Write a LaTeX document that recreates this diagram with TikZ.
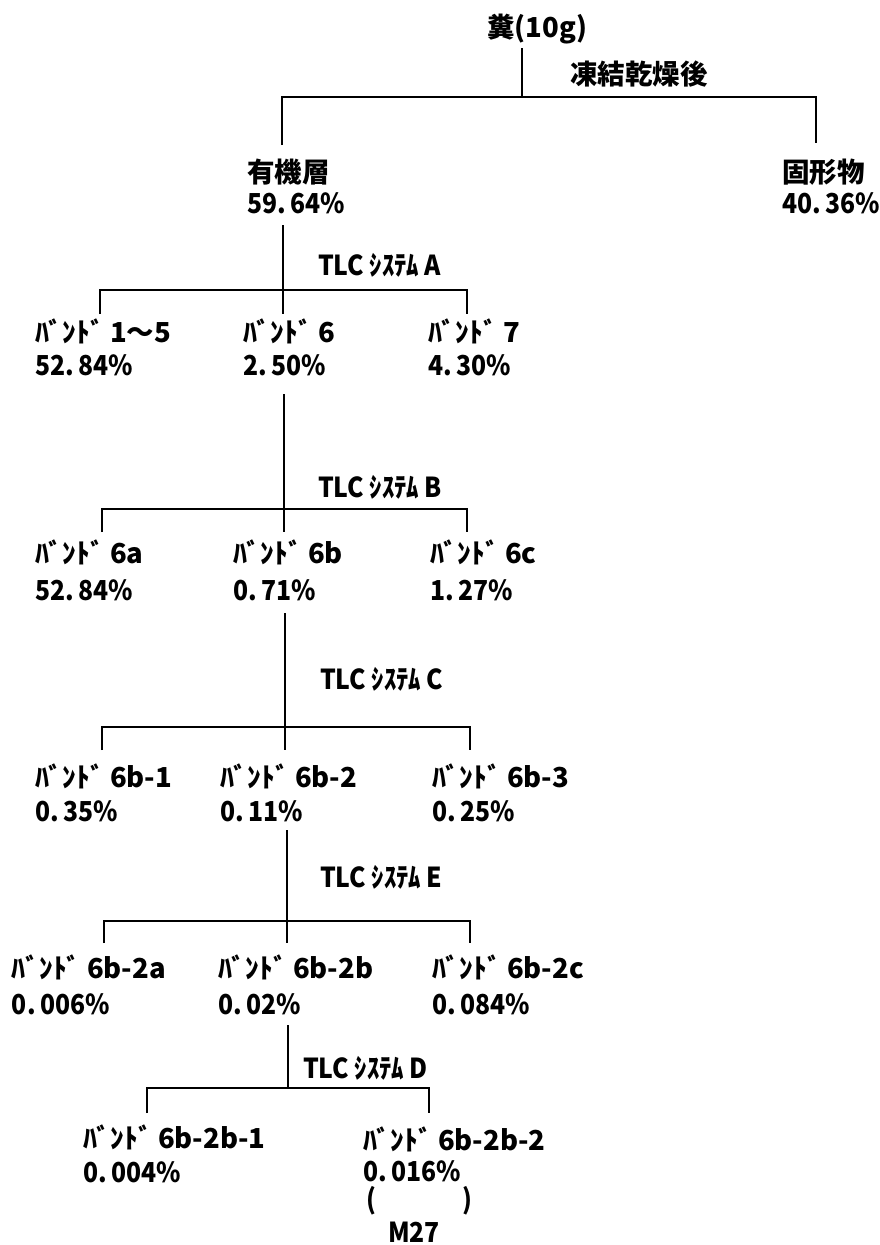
\documentclass[tikz,border=0pt]{standalone}
\usepackage{fontspec}
\setmainfont{Noto Sans CJK JP}
\newfontfamily\narrowfont{Noto Sans CJK JP}[FakeStretch=0.9]
\begin{document}
\begin{tikzpicture}[x=1pt,y=-1pt,
  lbl/.style={anchor=base west,inner sep=0pt,outer sep=0pt,
    font=\fontsize{27.5}{33}\selectfont\bfseries},
  pct/.style={lbl,font=\fontsize{27.5}{33}\selectfont\narrowfont\bfseries},
  wire/.style={line width=2.2pt,line cap=butt,line join=miter}]
\useasboundingbox (0,0) rectangle (879,1245);

% ---- labels ----
\node[lbl] (root)   at (487,37)  {糞(10g)};
\node[lbl] (freeze) at (570,84)  {凍結乾燥後};

\node[lbl] (org)  at (247,182) {有機層};
\node[pct] (orgp) at (247,213) {59.\,64\%};
\node[lbl] (sol)  at (782,182) {固形物};
\node[pct] (solp) at (782,213) {40.\,36\%};

\node[pct] (tlcA) at (318,275) {TLC ｼｽﾃﾑ A};
\node[lbl] (b15)  at (35,342)  {ﾊﾞﾝﾄﾞ 1～5};
\node[pct] (b15p) at (35,375)  {52.\,84\%};
\node[lbl] (b6)   at (243,342) {ﾊﾞﾝﾄﾞ 6};
\node[pct] (b6p)  at (243,375) {2.\,50\%};
\node[lbl] (b7)   at (428,342) {ﾊﾞﾝﾄﾞ 7};
\node[pct] (b7p)  at (428,375) {4.\,30\%};

\node[pct] (tlcB)  at (318,497) {TLC ｼｽﾃﾑ B};
\node[lbl] (b6a)   at (35,563)  {ﾊﾞﾝﾄﾞ 6a};
\node[pct] (b6ap)  at (35,600)  {52.\,84\%};
\node[lbl] (b6b)   at (233,563) {ﾊﾞﾝﾄﾞ 6b};
\node[pct] (b6bp)  at (233,600) {0.\,71\%};
\node[lbl] (b6c)   at (430,563) {ﾊﾞﾝﾄﾞ 6c};
\node[pct] (b6cp)  at (430,600) {1.\,27\%};

\node[pct] (tlcC)  at (320,689) {TLC ｼｽﾃﾑ C};
\node[lbl] (b6b1)  at (35,787)  {ﾊﾞﾝﾄﾞ 6b-1};
\node[pct] (b6b1p) at (35,821)  {0.\,35\%};
\node[lbl] (b6b2)  at (220,787) {ﾊﾞﾝﾄﾞ 6b-2};
\node[pct] (b6b2p) at (220,821) {0.\,11\%};
\node[lbl] (b6b3)  at (432,787) {ﾊﾞﾝﾄﾞ 6b-3};
\node[pct] (b6b3p) at (432,821) {0.\,25\%};

\node[pct] (tlcE)   at (320,887)  {TLC ｼｽﾃﾑ E};
\node[lbl] (b6b2a)  at (12,978)   {ﾊﾞﾝﾄﾞ 6b-2a};
\node[pct] (b6b2ap) at (12,1014)  {0.\,006\%};
\node[lbl] (b6b2b)  at (218,978)  {ﾊﾞﾝﾄﾞ 6b-2b};
\node[pct] (b6b2bp) at (218,1014) {0.\,02\%};
\node[lbl] (b6b2c)  at (432,978)  {ﾊﾞﾝﾄﾞ 6b-2c};
\node[pct] (b6b2cp) at (432,1014) {0.\,084\%};

\node[pct] (tlcD)    at (303,1078) {TLC ｼｽﾃﾑ D};
\node[lbl] (b6b2b1)  at (83,1148)  {ﾊﾞﾝﾄﾞ 6b-2b-1};
\node[pct] (b6b2b1p) at (83,1182)  {0.\,004\%};
\node[lbl] (b6b2b2)  at (363,1150) {ﾊﾞﾝﾄﾞ 6b-2b-2};
\node[pct] (b6b2b2p) at (363,1181) {0.\,016\%};
\node[pct] (lpar)    at (366,1209) {(};
\node[pct] (rpar)    at (462,1209) {)};
\node[pct,anchor=base] (m27) at (414,1242) {M27};

% ---- junction points ----
% freeze-drying split
\coordinate (s0)  at (522,48);
\coordinate (j0)  at (522,97);
\coordinate (l0)  at (282,97);
\coordinate (r0)  at (816,97);
\coordinate (l0e) at (282,145);
\coordinate (r0e) at (816,143);
% system A
\coordinate (sA)  at (283,225);
\coordinate (jA)  at (283,290);
\coordinate (lA)  at (100,290);
\coordinate (rA)  at (467,290);
\coordinate (lAe) at (100,314);
\coordinate (cAe) at (283,314);
\coordinate (rAe) at (467,314);
% system B
\coordinate (sB)  at (284,394);
\coordinate (jB)  at (284,509);
\coordinate (lB)  at (102,509);
\coordinate (rB)  at (467,509);
\coordinate (lBe) at (102,532);
\coordinate (cBe) at (284,532);
\coordinate (rBe) at (467,532);
% system C
\coordinate (sC)  at (285,613);
\coordinate (jC)  at (285,727);
\coordinate (lC)  at (102,727);
\coordinate (rC)  at (470,727);
\coordinate (lCe) at (102,750);
\coordinate (cCe) at (285,750);
\coordinate (rCe) at (470,750);
% system E
\coordinate (sE)  at (287,830);
\coordinate (jE)  at (287,921);
\coordinate (lE)  at (104,921);
\coordinate (rE)  at (470,921);
\coordinate (lEe) at (104,943);
\coordinate (cEe) at (287,943);
\coordinate (rEe) at (470,943);
% system D
\coordinate (sD)  at (288,1025);
\coordinate (jD)  at (288,1088);
\coordinate (lD)  at (147,1088);
\coordinate (rD)  at (429,1088);
\coordinate (lDe) at (147,1113);
\coordinate (rDe) at (429,1113);

% ---- connectors ----
\draw[wire] (s0) -- (j0);
\draw[wire] (l0e) -- (l0) -- (r0) -- (r0e);

\draw[wire] (sA) -- (jA) -- (cAe);
\draw[wire] (lAe) -- (lA) -- (rA) -- (rAe);

\draw[wire] (sB) -- (jB) -- (cBe);
\draw[wire] (lBe) -- (lB) -- (rB) -- (rBe);

\draw[wire] (sC) -- (jC) -- (cCe);
\draw[wire] (lCe) -- (lC) -- (rC) -- (rCe);

\draw[wire] (sE) -- (jE) -- (cEe);
\draw[wire] (lEe) -- (lE) -- (rE) -- (rEe);

\draw[wire] (sD) -- (jD);
\draw[wire] (lDe) -- (lD) -- (rD) -- (rDe);
\end{tikzpicture}
\end{document}
